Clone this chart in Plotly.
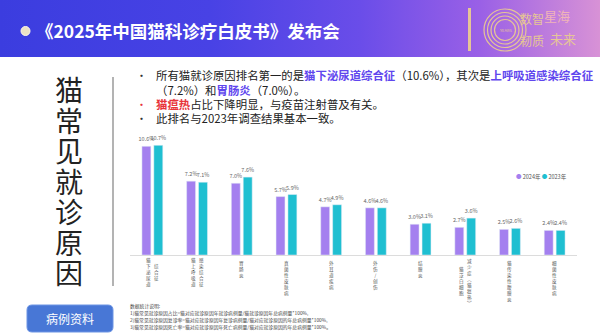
import plotly.graph_objects as go

W, H = 600, 335
FONT = "Noto Sans CJK SC"

# Visit reasons (full names) and how each name is wrapped into vertical columns
categories = ["猫下泌尿道综合征", "猫上呼吸道感染综合征", "胃肠炎", "真菌性皮肤病", "外耳道疾病",
              "外伤/创伤", "结膜炎", "猫泛白细胞减少症（猫瘟热）", "猫传染性腹膜炎", "细菌性皮肤病"]
label_columns = [["猫下泌尿道", "综合征"], ["猫上呼吸道", "感染综合征"], ["胃肠炎"], ["真菌性皮肤病"],
                 ["外耳道疾病"], ["外伤/创伤"], ["结膜炎"], ["猫泛白细胞", "减少症︵猫瘟热︶"],
                 ["猫传染性腹膜炎"], ["细菌性皮肤病"]]

share_2024 = [10.6, 7.2, 7.0, 5.7, 4.7, 4.6, 3.0, 2.7, 2.5, 2.4]
share_2023 = [10.7, 7.1, 7.6, 5.9, 4.9, 4.6, 3.1, 3.6, 2.6, 2.4]
series_names = ["2024年", "2023年"]

C24 = "#a480ef"
C23 = "#1fbfd1"


def px(x):
    return x / W


def py(y):
    return 1 - y / H


def note(x, y, text, size, color, xanchor="center", yanchor="middle", **kw):
    """Text placed in page pixel coordinates (origin top-left)."""
    return dict(x=px(x), y=py(y), xref="paper", yref="paper", text=text, showarrow=False,
                xanchor=xanchor, yanchor=yanchor,
                font=dict(family=FONT, size=size, color=color), **kw)


fig = go.Figure()

# Header band with a horizontal gradient (drawn on a full-page helper axis in pixel units)
fig.add_trace(go.Scatter(
    x=[0, W, W, 0, 0], y=[0, 0, 57, 57, 0], xaxis="x2", yaxis="y2",
    mode="lines", line=dict(width=0), fill="toself",
    fillgradient=dict(type="horizontal",
                      colorscale=[[0, "#3b3ddf"], [0.35, "#4842e5"], [0.6, "#6a4de9"],
                                  [0.8, "#9a60e6"], [1, "#d892d6"]]),
    hoverinfo="skip", showlegend=False))

# Bars
for vals, name, col in [(share_2024, series_names[0], C24), (share_2023, series_names[1], C23)]:
    fig.add_trace(go.Bar(x=categories, y=vals, name=name, marker_color=col,
                         texttemplate="%{y:.1f}%", textposition="outside", constraintext="none",
                         cliponaxis=False, textfont=dict(size=5.5, color="#666", family=FONT),
                         showlegend=False))

ann = []
shapes = []

# Header title and bullet sphere
shapes.append(dict(type="circle", xref="paper", yref="paper",
                   x0=px(21), x1=px(30), y0=py(35.5), y1=py(26.5),
                   fillcolor="#ece2c6", line=dict(color="#fff8e8", width=1)))
ann.append(note(34, 31, "<b>《2025年中国猫科诊疗白皮书》发布会</b>", 17.5, "white", xanchor="left"))

# Anniversary mark
GOLD = "#e6c596"
shapes.append(dict(type="rect", xref="paper", yref="paper", x0=px(468), x1=px(471),
                   y0=py(51), y1=py(8), fillcolor=GOLD, line=dict(width=0)))
for r in (21, 17.5, 14, 10.5):
    shapes.append(dict(type="circle", xref="paper", yref="paper",
                       x0=px(505 - r), x1=px(505 + r), y0=py(30 + r), y1=py(30 - r),
                       line=dict(color=GOLD, width=1.2)))
ann.append(note(505, 30, "YEARS", 4, GOLD))
for txt, x, y, s, c in [("数智", 532, 18, 12, GOLD), ("星海", 557, 15, 13, "#f0b4b8"),
                        ("韧质", 532, 40, 12, GOLD), ("未来", 563, 38, 13, GOLD)]:
    ann.append(note(x, y, txt, s, c))

# Vertical page title: line pitch from the base size, glyphs enlarged per line
title_chars = "猫常见就诊原因"
ann.append(note(69, 180, "<br>".join("<span style='font-size:28px'>%s</span>" % c for c in title_chars),
                23.5, "#222"))
shapes.append(dict(type="line", xref="paper", yref="paper", x0=px(113), x1=px(113),
                   y0=py(77), y1=py(286), line=dict(color="#9a9a9a", width=1.5)))

# Bullet notes
HL = "#6046ee"
RED = "#e8333a"
bullets = [
    ("#333", 75, "所有猫就诊原因排名第一的是<b><span style='color:%s'>猫下泌尿道综合征</span></b>（10.6%%），"
                 "其次是<b><span style='color:%s'>上呼吸道感染综合征</span></b>" % (HL, HL)),
    (None, 90, "（7.2%%）和<b><span style='color:%s'>胃肠炎</span></b>（7.0%%）。" % HL),
    (RED, 104, "<b><span style='color:%s'>猫瘟热</span></b>占比下降明显，与疫苗注射普及有关。" % RED),
    ("#333", 118, "此排名与2023年调查结果基本一致。"),
]
for dot, y, txt in bullets:
    if dot:
        ann.append(note(141, y, "•", 11, dot))
    ann.append(note(154, y, txt, 11.4, "#222", xanchor="left"))

# Legend
ann.append(note(541, 177, "<span style='color:%s'>●</span> %s <span style='color:%s'>●</span> %s"
                % (C24, series_names[0], C23, series_names[1]), 5.5, "#555"))

# Vertical category labels under the axis
LBL = 4.6
for cat, cols in zip(categories, label_columns):
    longest = max(len(c) for c in cols)
    center = 258 + longest * LBL * 1.3 / 2
    offsets = [0] if len(cols) == 1 else [-4, 4]
    for col, dx in zip(cols, offsets):
        ann.append(dict(x=cat, xref="x", xshift=dx, xanchor="center",
                        y=py(center if len(cols) > 1 else 258), yref="paper",
                        yanchor="middle" if len(cols) > 1 else "top",
                        text="<br>".join(col), showarrow=False, align="center",
                        font=dict(family=FONT, size=LBL, color="#555")))

# Button
bx0, bx1, by0, by1, rr = 27, 113, 305, 332, 5
path = (f"M {px(bx0 + rr)},{py(by0)} L {px(bx1 - rr)},{py(by0)} "
        f"Q {px(bx1)},{py(by0)} {px(bx1)},{py(by0 + rr)} L {px(bx1)},{py(by1 - rr)} "
        f"Q {px(bx1)},{py(by1)} {px(bx1 - rr)},{py(by1)} L {px(bx0 + rr)},{py(by1)} "
        f"Q {px(bx0)},{py(by1)} {px(bx0)},{py(by1 - rr)} L {px(bx0)},{py(by0 + rr)} "
        f"Q {px(bx0)},{py(by0)} {px(bx0 + rr)},{py(by0)} Z")
shapes.append(dict(type="path", xref="paper", yref="paper", path=path,
                   fillcolor="#4877d6", line=dict(color="#6d95e4", width=1)))
ann.append(note(70, 318.5, "病例资料", 12, "white"))

# Footnotes, one line each
notes = ["数据统计说明:",
         "1)猫常见就诊原因占比=猫对应就诊原因年就诊病例量/猫就诊原因年总病例量*100%,",
         "2)猫常见就诊原因复诊率=猫对应就诊原因年复诊病例量/猫对应就诊原因的年总病例量*100%,",
         "3)猫常见就诊原因死亡率=猫对应就诊原因年死亡病例量/猫对应就诊原因的年总病例量*100%。"]
for i, line in enumerate(notes):
    ann.append(note(128, 306 + 7 * i, line, 4.8, "#444", xanchor="left"))

fig.update_layout(
    width=W, height=H, margin=dict(l=0, r=0, t=0, b=0),
    paper_bgcolor="white", plot_bgcolor="rgba(0,0,0,0)",
    barmode="group", bargap=0.467, bargroupgap=0.25,
    xaxis=dict(domain=[px(130), px(577)], range=[-0.5, 9.5], showticklabels=False,
               showline=True, linecolor="#dcdcdc", linewidth=1, showgrid=False, zeroline=False,
               ticks="", fixedrange=True),
    yaxis=dict(domain=[py(255), py(255 - 12 * 10.25)], range=[0, 12], visible=False,
               showgrid=False, zeroline=False),
    xaxis2=dict(domain=[0, 1], range=[0, W], visible=False, anchor="y2"),
    yaxis2=dict(domain=[0, 1], range=[H, 0], visible=False, anchor="x2"),
    shapes=shapes, annotations=ann, showlegend=False,
)

fig.write_html("out.html")
